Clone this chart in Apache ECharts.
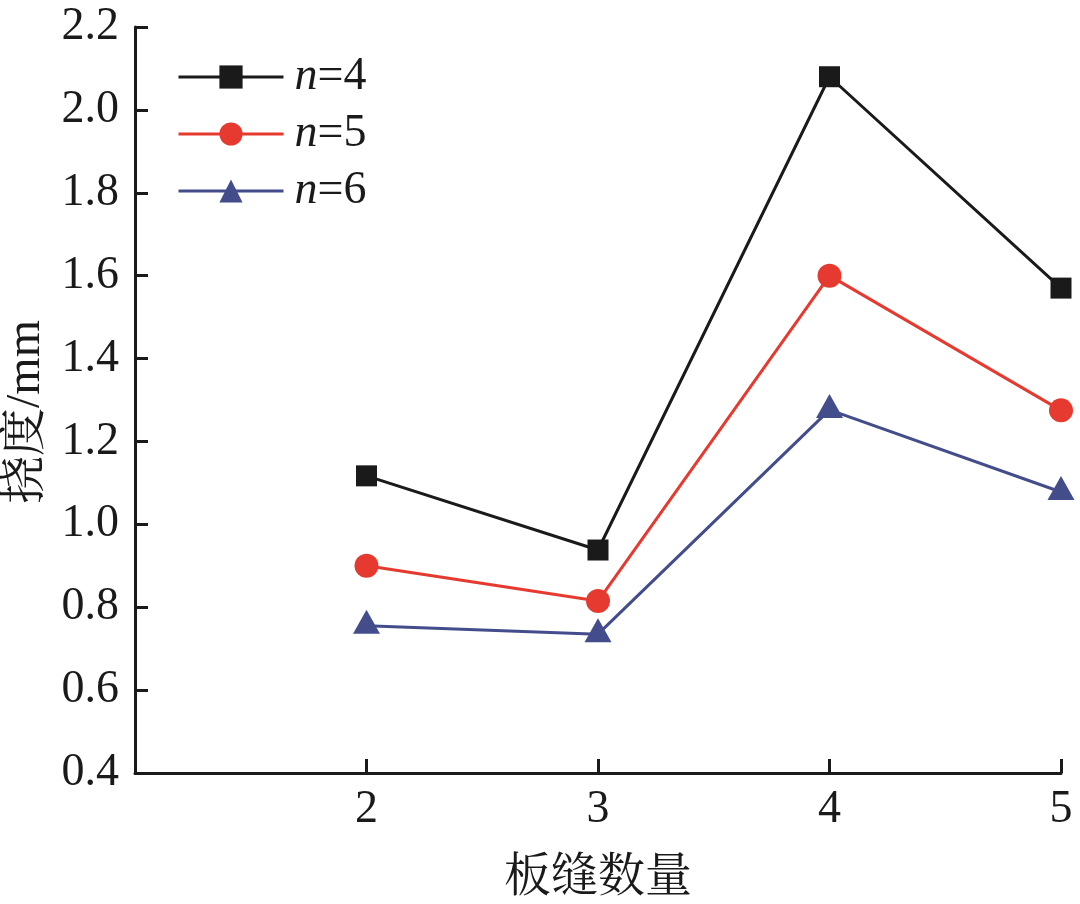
<!DOCTYPE html>
<html>
<head>
<meta charset="utf-8">
<script src="https://cdn.jsdelivr.net/npm/echarts@6/dist/echarts.min.js"></script>
<style>html,body{margin:0;padding:0;background:#fff}#c{width:1080px;height:904px}</style>
</head>
<body>
<div id="c"></div>
<script>
var xValues = [2, 3, 4, 5];
var seriesNames = ['4', '5', '6'];
var n4 = [1.117, 0.938, 2.08, 1.57];
var n5 = [0.90, 0.815, 1.60, 1.275];
var n6 = [0.755, 0.735, 1.276, 1.078];
var yTicks = [0.4, 0.6, 0.8, 1.0, 1.2, 1.4, 1.6, 1.8, 2.0, 2.2];
var xTicks = [2, 3, 4, 5];

var serif = '"Liberation Serif", "Times New Roman", serif';
var cjk = '"Liberation Serif", "Noto Serif CJK SC", "Noto Sans CJK SC", serif';

function pairs(vals) { return xValues.map(function (x, i) { return [x, vals[i]]; }); }

var chart = echarts.init(document.getElementById('c'), null, {renderer: 'canvas'});
var colors = ['#1a1a1a', '#e63a30', '#444d8c'];
var symbols = ['rect', 'circle', 'triangle'];
var sizes = [[21, 21], [24, 24], [27, 24]];
var offsets = [[0, 0], [0, 0], [0, -4]];
var dataSets = [n4, n5, n6];

var series = dataSets.map(function (d, i) {
  return {
    name: seriesNames[i],
    type: 'line',
    data: pairs(d),
    symbol: symbols[i],
    symbolSize: sizes[i],
    symbolOffset: offsets[i],
    showAllSymbol: true,
    lineStyle: {color: colors[i], width: 3},
    itemStyle: {color: colors[i], borderWidth: 0},
    emphasis: {disabled: true},
    z: 3 - i
  };
});

chart.setOption({
  animation: false,
  backgroundColor: '#ffffff',
  grid: {left: 135, right: 19, top: 27, bottom: 131, containLabel: false, outerBoundsMode: 'none'},
  legend: {
    left: 177, top: 54, orient: 'vertical', padding: 0,
    itemWidth: 105, itemHeight: 29, itemGap: 11,
    selectedMode: false,
    data: seriesNames,
    lineStyle: {width: 3},
    formatter: function (name) { return '{i|n}{r|=' + name + '}'; },
    textStyle: {
      padding: [0, 0, 0, 6],
      rich: {
        i: {fontFamily: serif, fontStyle: 'italic', fontSize: 46, lineHeight: 46, color: '#1a1a1a'},
        r: {fontFamily: serif, fontSize: 46, lineHeight: 46, color: '#1a1a1a'}
      }
    }
  },
  xAxis: {
    type: 'value', min: 1, max: 5, interval: 1,
    name: '板缝数量', nameLocation: 'middle', nameGap: 82,
    nameTextStyle: {fontFamily: cjk, fontSize: 47, color: '#1a1a1a'},
    axisLine: {show: true, onZero: false, lineStyle: {color: '#1a1a1a', width: 3}},
    axisTick: {show: true, inside: true, length: 14, lineStyle: {color: '#1a1a1a', width: 3}},
    axisLabel: {
      margin: 14, fontFamily: serif, fontSize: 46, color: '#1a1a1a',
      formatter: function (v) { return xTicks.indexOf(v) >= 0 ? String(v) : ''; }
    },
    splitLine: {show: false}
  },
  yAxis: {
    type: 'value', min: 0.4, max: 2.2, interval: 0.2,
    name: '挠度/mm', nameLocation: 'middle', nameGap: 84,
    nameTextStyle: {fontFamily: cjk, fontSize: 48, color: '#1a1a1a', padding: [0, 24, 0, 0]},
    axisLine: {show: true, onZero: false, lineStyle: {color: '#1a1a1a', width: 3}},
    axisTick: {show: true, inside: true, length: 13, lineStyle: {color: '#1a1a1a', width: 3}},
    axisLabel: {
      margin: 16, fontFamily: serif, fontSize: 46, color: '#1a1a1a',
      formatter: function (v) {
        var t = yTicks.find(function (y) { return Math.abs(y - v) < 1e-6; });
        return t !== undefined ? t.toFixed(1) : '';
      }
    },
    splitLine: {show: false}
  },
  series: series
});
</script>
</body>
</html>
